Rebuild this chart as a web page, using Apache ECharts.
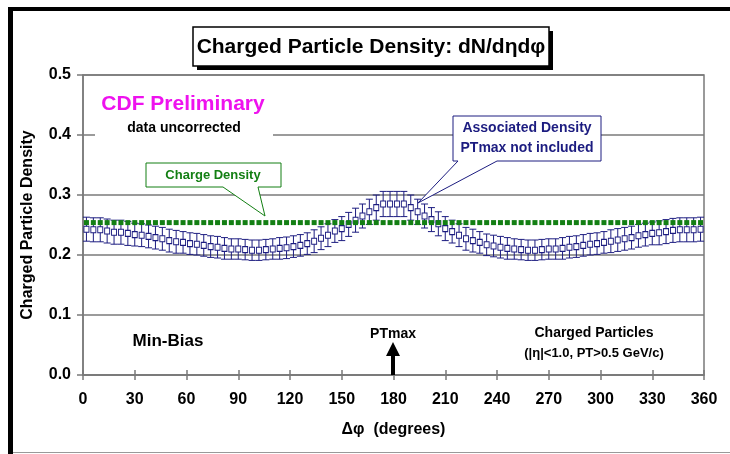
<!DOCTYPE html>
<html>
<head>
<meta charset="utf-8">
<title>Charged Particle Density</title>
<script src="https://cdn.jsdelivr.net/npm/echarts@6/dist/echarts.min.js"></script>
<style>
  html, body { margin: 0; padding: 0; background: #fff; }
  #main { width: 730px; height: 454px; }
</style>
</head>
<body>
<div id="main"></div>
<script>
// bin centres in degrees (4 degree bins)
var phi = [2, 6, 10, 14, 18, 22, 26, 30, 34, 38, 42, 46, 50, 54, 58, 62, 66, 70, 74, 78,
           82, 86, 90, 94, 98, 102, 106, 110, 114, 118, 122, 126, 130, 134, 138, 142, 146, 150, 154, 158,
           162, 166, 170, 174, 178, 182, 186, 190, 194, 198, 202, 206, 210, 214, 218, 222, 226, 230, 234, 238,
           242, 246, 250, 254, 258, 262, 266, 270, 274, 278, 282, 286, 290, 294, 298, 302, 306, 310, 314, 318,
           322, 326, 330, 334, 338, 342, 346, 350, 354, 358];

// associated density (PTmax not included)
var assocDensity = [0.243, 0.242, 0.242, 0.240, 0.238, 0.238, 0.236, 0.234, 0.233, 0.231,
                    0.229, 0.227, 0.224, 0.222, 0.221, 0.219, 0.218, 0.216, 0.214, 0.213,
                    0.211, 0.210, 0.210, 0.209, 0.208, 0.208, 0.209, 0.210, 0.211, 0.212,
                    0.214, 0.216, 0.219, 0.223, 0.228, 0.233, 0.240, 0.244, 0.251, 0.258,
                    0.265, 0.272, 0.279, 0.285, 0.285,
                    0.285, 0.285, 0.279, 0.272, 0.265, 0.259, 0.252, 0.244, 0.239, 0.233,
                    0.227, 0.224, 0.221, 0.217, 0.215, 0.213, 0.211, 0.210, 0.209, 0.208,
                    0.208, 0.209, 0.210, 0.210, 0.211, 0.213, 0.214, 0.216, 0.218, 0.219,
                    0.221, 0.223, 0.225, 0.227, 0.229, 0.232, 0.234, 0.236, 0.237, 0.239,
                    0.241, 0.242, 0.242, 0.242, 0.243];

// error (half height) of each associated density point
var assocErr = [0.020, 0.020, 0.020, 0.020, 0.020, 0.020, 0.020, 0.019, 0.019, 0.019,
                0.019, 0.019, 0.019, 0.019, 0.018, 0.018, 0.018, 0.018, 0.018, 0.018,
                0.018, 0.017, 0.017, 0.017, 0.017, 0.017, 0.017, 0.017, 0.018, 0.018,
                0.018, 0.018, 0.018, 0.019, 0.019, 0.019, 0.019, 0.020, 0.020, 0.020,
                0.020, 0.021, 0.021, 0.021, 0.021,
                0.021, 0.021, 0.021, 0.021, 0.020, 0.020, 0.020, 0.020, 0.019, 0.019,
                0.019, 0.019, 0.018, 0.018, 0.018, 0.018, 0.018, 0.017, 0.017, 0.017,
                0.017, 0.017, 0.017, 0.017, 0.018, 0.018, 0.018, 0.018, 0.018, 0.018,
                0.018, 0.019, 0.019, 0.019, 0.019, 0.019, 0.019, 0.019, 0.020, 0.020,
                0.020, 0.020, 0.020, 0.020, 0.020];

// overall charge density (flat)
var chargeDensity = [0.254, 0.254, 0.254, 0.254, 0.254, 0.254, 0.254, 0.254, 0.254, 0.254,
                     0.254, 0.254, 0.254, 0.254, 0.254, 0.254, 0.254, 0.254, 0.254, 0.254,
                     0.254, 0.254, 0.254, 0.254, 0.254, 0.254, 0.254, 0.254, 0.254, 0.254,
                     0.254, 0.254, 0.254, 0.254, 0.254, 0.254, 0.254, 0.254, 0.254, 0.254,
                     0.254, 0.254, 0.254, 0.254, 0.254,
                     0.254, 0.254, 0.254, 0.254, 0.254, 0.254, 0.254, 0.254, 0.254, 0.254,
                     0.254, 0.254, 0.254, 0.254, 0.254, 0.254, 0.254, 0.254, 0.254, 0.254,
                     0.254, 0.254, 0.254, 0.254, 0.254, 0.254, 0.254, 0.254, 0.254, 0.254,
                     0.254, 0.254, 0.254, 0.254, 0.254, 0.254, 0.254, 0.254, 0.254, 0.254,
                     0.254, 0.254, 0.254, 0.254, 0.254];

var xTicks = [0, 30, 60, 90, 120, 150, 180, 210, 240, 270, 300, 330, 360];
var yTicks = ['0.0', '0.1', '0.2', '0.3', '0.4', '0.5'];

var NAVY = '#1c1c80';
var GREEN = '#137f13';
var GRID = '#7a7a7a';
var FONT = '"Liberation Sans", Arial, sans-serif';

var assocPts = [], errPts = [], chargePts = [];
for (var i = 0; i < phi.length; i++) {
    assocPts.push([phi[i], assocDensity[i]]);
    errPts.push([phi[i], assocDensity[i] - assocErr[i], assocDensity[i] + assocErr[i]]);
    chargePts.push([phi[i], chargeDensity[i]]);
}

function renderErr(params, api) {
    var x = api.value(0);
    var hi = api.coord([x, api.value(2)]);
    var lo = api.coord([x, api.value(1)]);
    var w = 3.5;
    var st = { stroke: NAVY, lineWidth: 1 };
    return {
        type: 'group',
        children: [
            { type: 'line', shape: { x1: hi[0], y1: hi[1], x2: lo[0], y2: lo[1] }, style: st },
            { type: 'line', shape: { x1: hi[0] - w, y1: hi[1], x2: hi[0] + w, y2: hi[1] }, style: st },
            { type: 'line', shape: { x1: lo[0] - w, y1: lo[1], x2: lo[0] + w, y2: lo[1] }, style: st }
        ]
    };
}

function txt(x, y, s, size, color, extra) {
    var o = {
        type: 'text', x: x, y: y, z: 20,
        style: {
            text: s, fill: color || '#000', font: 'bold ' + size + 'px ' + FONT,
            textAlign: 'center', textVerticalAlign: 'middle'
        }
    };
    if (extra) { for (var k in extra) o[k] = extra[k]; }
    return o;
}

var myChart = echarts.init(document.getElementById('main'));

myChart.setOption({
    backgroundColor: '#fff',
    animation: false,
    grid: {
        left: 83, right: 26, top: 75, bottom: 79,
        show: true, borderColor: GRID, borderWidth: 1.5, backgroundColor: 'transparent'
    },
    xAxis: [{
        type: 'value', min: 0, max: 360, interval: 30,
        name: 'Δφ  (degrees)', nameLocation: 'middle', nameGap: 47,
        nameTextStyle: { fontFamily: FONT, fontWeight: 'bold', fontSize: 16, color: '#000' },
        axisLine: { lineStyle: { color: GRID, width: 1.5 } },
        axisTick: { length: 5, lineStyle: { color: GRID, width: 1.5 } },
        axisLabel: {
            margin: 17, fontFamily: FONT, fontWeight: 'bold', fontSize: 16, color: '#000',
            formatter: function (v) { return xTicks.indexOf(v) >= 0 ? String(v) : ''; }
        },
        splitLine: { show: false }
    }, {
        // inner half of the crossing ticks
        type: 'value', min: 0, max: 360, interval: 30, position: 'bottom',
        axisLine: { show: false },
        axisTick: { inside: true, length: 5, lineStyle: { color: GRID, width: 1.5 } },
        axisLabel: { show: false },
        splitLine: { show: false }
    }],
    yAxis: {
        type: 'value', min: 0, max: 0.5, interval: 0.1,
        name: 'Charged Particle Density', nameLocation: 'middle', nameGap: 47,
        nameTextStyle: { fontFamily: FONT, fontWeight: 'bold', fontSize: 16, color: '#000' },
        axisLine: { show: true, lineStyle: { color: GRID, width: 1.5 } },
        axisTick: { show: true, length: 6, lineStyle: { color: GRID, width: 1.5 } },
        axisLabel: {
            margin: 12, fontFamily: FONT, fontWeight: 'bold', fontSize: 16, color: '#000',
            formatter: function (v) { return yTicks[Math.round(v * 10)]; }
        },
        splitLine: { show: true, lineStyle: { color: GRID, width: 1.5 } }
    },
    series: [{
        name: 'error',
        type: 'custom',
        renderItem: renderErr,
        data: errPts,
        z: 3,
        silent: true
    }, {
        name: 'Associated Density',
        type: 'scatter',
        data: assocPts,
        symbol: 'rect',
        symbolSize: [5, 6],
        itemStyle: { color: '#fff', borderColor: NAVY, borderWidth: 1, opacity: 1 },
        z: 4
    }, {
        name: 'Charge Density',
        type: 'scatter',
        data: chargePts,
        symbol: 'rect',
        symbolSize: 5,
        itemStyle: { color: GREEN, opacity: 1 },
        z: 5
    }],
    graphic: [
        // outer frame
        { type: 'rect', z: 30, shape: { x: 8, y: 7, width: 722, height: 4 }, style: { fill: '#000' } },
        { type: 'rect', z: 30, shape: { x: 8, y: 7, width: 5, height: 447 }, style: { fill: '#000' } },
        { type: 'rect', z: 30, shape: { x: 13, y: 452, width: 717, height: 1 }, style: { fill: '#999' } },

        // title box with shadow
        { type: 'rect', z: 18, shape: { x: 197, y: 31, width: 356, height: 39 }, style: { fill: '#000' } },
        { type: 'rect', z: 19, shape: { x: 193, y: 27, width: 356, height: 39 },
          style: { fill: '#fff', stroke: '#000', lineWidth: 1.5 } },
        txt(371, 47, 'Charged Particle Density: dN/dηdφ', 21),

        // CDF preliminary block (hides grid line)
        { type: 'rect', z: 18, shape: { x: 95, y: 88, width: 178, height: 52 }, style: { fill: '#fff' } },
        txt(183, 104, 'CDF Preliminary', 21, '#ee12ee'),
        txt(184, 128, 'data uncorrected', 14),

        // Charge Density callout
        { type: 'polygon', z: 18,
          shape: { points: [[146, 163], [281, 163], [281, 187], [258, 187], [265, 216], [223, 187], [146, 187]] },
          style: { fill: '#fff', stroke: GREEN, lineWidth: 1 } },
        txt(213, 175, 'Charge Density', 13, GREEN),

        // Associated Density callout
        { type: 'polygon', z: 18,
          shape: { points: [[453, 116], [601, 116], [601, 161], [497, 161], [418, 203], [458, 161], [453, 161]] },
          style: { fill: '#fff', stroke: NAVY, lineWidth: 1 } },
        txt(527, 128, 'Associated Density', 14, NAVY),
        txt(527, 148, 'PTmax not included', 14, NAVY),

        // bottom annotations
        txt(168, 341, 'Min-Bias', 17),
        txt(393, 334, 'PTmax', 14),
        { type: 'polygon', z: 20,
          shape: { points: [[391, 375], [391, 356], [386, 356], [393, 342], [400, 356], [395, 356], [395, 375]] },
          style: { fill: '#000' } },
        txt(594, 333, 'Charged Particles', 14),
        txt(594, 353, '(|η|<1.0, PT>0.5 GeV/c)', 13)
    ]
});
</script>
</body>
</html>
